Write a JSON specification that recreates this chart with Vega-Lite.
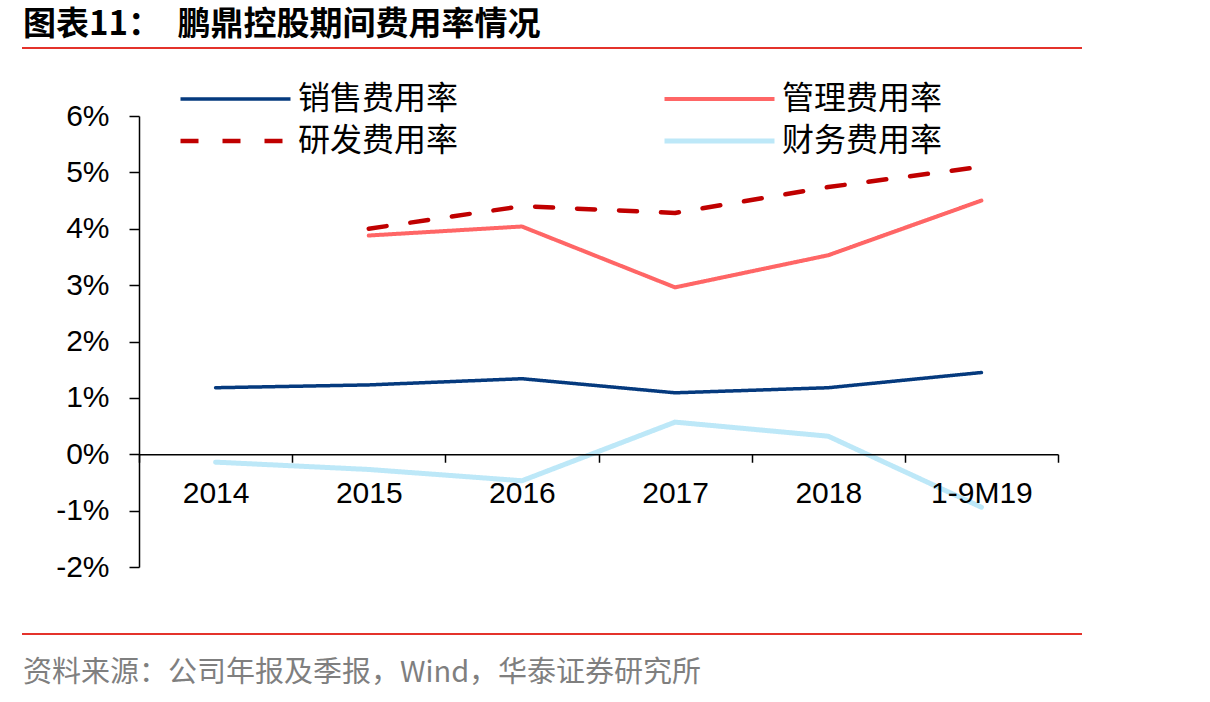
{
  "$schema": "https://vega.github.io/schema/vega-lite/v6.json",
  "background": "white",
  "padding": {"left": 22, "top": 8, "right": 10, "bottom": 5},
  "spacing": 51,
  "resolve": {
    "scale": {"color": "shared", "strokeDash": "shared", "strokeWidth": "shared"},
    "legend": {"color": "shared", "strokeDash": "shared"}
  },
  "config": {
    "view": {"stroke": null},
    "font": "Liberation Sans",
    "legend": {
      "orient": "none",
      "legendX": 155,
      "legendY": 36,
      "direction": "horizontal",
      "columns": 2,
      "symbolType": "stroke",
      "symbolSize": 12100,
      "symbolStrokeWidth": 5,
      "clipHeight": 30,
      "labelFont": "Noto Sans CJK SC",
      "labelFontSize": 32,
      "labelColor": "#000000",
      "labelOffset": 5,
      "labelLimit": 0,
      "columnPadding": 203,
      "rowPadding": 10,
      "padding": 0
    }
  },
  "vconcat": [
    {
      "width": 1058,
      "height": 0.01,
      "data": {"values": []},
      "mark": "rule",
      "encoding": {},
      "view": {"stroke": "#E4322B", "strokeWidth": 2},
      "title": {
        "text": "图表11：　鹏鼎控股期间费用率情况",
        "anchor": "start",
        "font": "Noto Sans CJK SC",
        "fontSize": 33,
        "fontWeight": "bold",
        "color": "#000000",
        "offset": 6
      }
    },
    {
      "width": 1058,
      "height": 451,
      "data": {
        "values": [
          {"period": "2014", "series": "销售费用率", "rate": 1.18},
          {"period": "2015", "series": "销售费用率", "rate": 1.23},
          {"period": "2016", "series": "销售费用率", "rate": 1.34},
          {"period": "2017", "series": "销售费用率", "rate": 1.09},
          {"period": "2018", "series": "销售费用率", "rate": 1.18},
          {"period": "1-9M19", "series": "销售费用率", "rate": 1.45},
          {"period": "2015", "series": "管理费用率", "rate": 3.88},
          {"period": "2016", "series": "管理费用率", "rate": 4.04},
          {"period": "2017", "series": "管理费用率", "rate": 2.96},
          {"period": "2018", "series": "管理费用率", "rate": 3.53},
          {"period": "1-9M19", "series": "管理费用率", "rate": 4.50},
          {"period": "2015", "series": "研发费用率", "rate": 4.00},
          {"period": "2016", "series": "研发费用率", "rate": 4.40},
          {"period": "2017", "series": "研发费用率", "rate": 4.28},
          {"period": "2018", "series": "研发费用率", "rate": 4.74},
          {"period": "1-9M19", "series": "研发费用率", "rate": 5.10},
          {"period": "2014", "series": "财务费用率", "rate": -0.14},
          {"period": "2015", "series": "财务费用率", "rate": -0.27},
          {"period": "2016", "series": "财务费用率", "rate": -0.47},
          {"period": "2017", "series": "财务费用率", "rate": 0.57},
          {"period": "2018", "series": "财务费用率", "rate": 0.32},
          {"period": "1-9M19", "series": "财务费用率", "rate": -0.94}
        ]
      },
      "mark": {"type": "line", "strokeCap": "round", "strokeJoin": "round"},
      "encoding": {
        "x": {
          "field": "period",
          "type": "ordinal",
          "bandPosition": 0.5,
          "scale": {
            "type": "band",
            "domain": ["2014", "2015", "2016", "2017", "2018", "1-9M19"],
            "range": [116, 1035],
            "paddingInner": 0,
            "paddingOuter": 0
          },
          "axis": {
            "title": null,
            "orient": "bottom",
            "offset": -112.75,
            "zindex": 1,
            "labelAngle": 0,
            "tickBand": "extent",
            "grid": false,
            "domainColor": "#000000",
            "domainWidth": 1.5,
            "tickColor": "#000000",
            "tickWidth": 1.5,
            "tickSize": 8,
            "labelFont": "Liberation Sans",
            "labelFontSize": 30,
            "labelColor": "#000000",
            "labelPadding": 16
          }
        },
        "y": {
          "field": "rate",
          "type": "quantitative",
          "scale": {"domain": [-2, 6], "nice": false, "zero": false},
          "axis": {
            "title": null,
            "offset": -116,
            "values": [-2, -1, 0, 1, 2, 3, 4, 5, 6],
            "labelExpr": "datum.value + '%'",
            "grid": false,
            "domainColor": "#000000",
            "domainWidth": 1.5,
            "tickColor": "#000000",
            "tickWidth": 1.5,
            "tickSize": 10,
            "labelFont": "Liberation Sans",
            "labelFontSize": 30,
            "labelColor": "#000000",
            "labelPadding": 20
          }
        },
        "color": {
          "field": "series",
          "type": "nominal",
          "scale": {
            "domain": ["销售费用率", "管理费用率", "研发费用率", "财务费用率"],
            "range": ["#053A7E", "#FF6666", "#C00000", "#BDE8F8"]
          },
          "legend": {"title": null}
        },
        "strokeDash": {
          "field": "series",
          "type": "nominal",
          "scale": {
            "domain": ["销售费用率", "管理费用率", "研发费用率", "财务费用率"],
            "range": [[1, 0], [1, 0], [18, 24], [1, 0]]
          },
          "legend": {"title": null}
        },
        "strokeWidth": {
          "field": "series",
          "type": "nominal",
          "scale": {
            "domain": ["销售费用率", "管理费用率", "研发费用率", "财务费用率"],
            "range": [3.5, 5, 5.5, 6]
          },
          "legend": null
        }
      }
    },
    {
      "width": 1058,
      "height": 0.01,
      "data": {"values": []},
      "mark": "rule",
      "encoding": {},
      "view": {"stroke": "#E4322B", "strokeWidth": 2},
      "title": {
        "text": "资料来源：公司年报及季报，Wind，华泰证券研究所",
        "orient": "bottom",
        "anchor": "start",
        "font": "Noto Sans CJK SC",
        "fontSize": 29,
        "fontWeight": "normal",
        "color": "#7F7F7F",
        "offset": 25
      }
    }
  ]
}
